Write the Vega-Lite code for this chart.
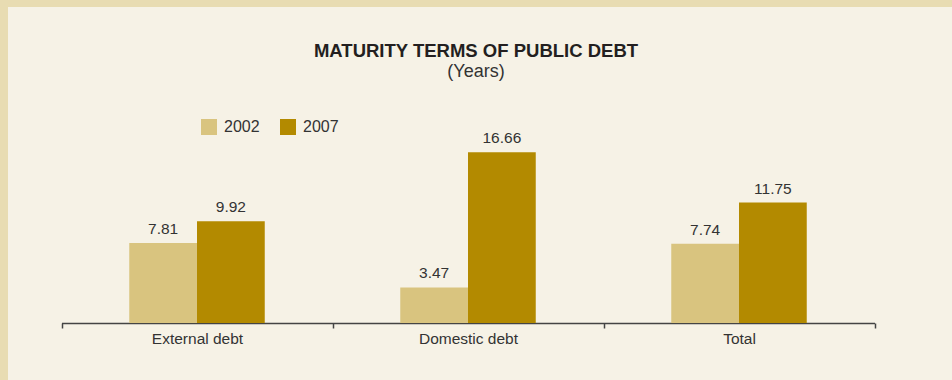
{
  "$schema": "https://vega.github.io/schema/vega-lite/v6.json",
  "autosize": {"type": "none"},
  "width": 944,
  "height": 373,
  "padding": {"left": 8, "top": 7, "right": 0, "bottom": 0},
  "background": "#e8dcb2",
  "config": {
    "view": {"fill": "#f6f2e6", "stroke": null},
    "font": "Liberation Sans"
  },
  "title": {
    "text": "MATURITY TERMS OF PUBLIC DEBT",
    "subtitle": "(Years)",
    "anchor": "middle",
    "frame": "group",
    "fontSize": 18.5,
    "fontWeight": "bold",
    "color": "#231f20",
    "subtitleFontSize": 18,
    "subtitleColor": "#333333",
    "subtitlePadding": 3,
    "dx": -4,
    "offset": -74
  },
  "data": {
    "values": [
      {"category": "External debt", "year": "2002", "value": 7.81},
      {"category": "External debt", "year": "2007", "value": 9.92},
      {"category": "Domestic debt", "year": "2002", "value": 3.47},
      {"category": "Domestic debt", "year": "2007", "value": 16.66},
      {"category": "Total", "year": "2002", "value": 7.74},
      {"category": "Total", "year": "2007", "value": 11.75}
    ]
  },
  "encoding": {
    "x": {
      "field": "category",
      "type": "nominal",
      "sort": ["External debt", "Domestic debt", "Total"],
      "scale": {"range": [53.5, 866.5], "paddingInner": 0, "paddingOuter": 0},
      "axis": {
        "title": null,
        "labelAngle": 0,
        "offset": -57,
        "tickBand": "extent",
        "tickSize": 5,
        "tickColor": "#444444",
        "tickWidth": 1.5,
        "domainColor": "#444444",
        "domainWidth": 1.5,
        "labelFontSize": 15.5,
        "labelColor": "#333333",
        "labelPadding": 3
      }
    },
    "xOffset": {
      "field": "year",
      "type": "nominal",
      "scale": {"paddingInner": 0, "paddingOuter": 1}
    },
    "y": {
      "field": "value",
      "type": "quantitative",
      "scale": {"domain": [0, 20], "range": [316, 111]},
      "axis": null
    }
  },
  "layer": [
    {
      "mark": {"type": "bar"},
      "encoding": {
        "color": {
          "field": "year",
          "type": "nominal",
          "scale": {"domain": ["2002", "2007"], "range": ["#d9c47f", "#b38a00"]},
          "legend": {
            "title": null,
            "orient": "none",
            "direction": "horizontal",
            "legendX": 193,
            "legendY": 112,
            "symbolType": "square",
            "symbolSize": 256,
            "symbolStrokeWidth": 0,
            "labelFontSize": 16,
            "labelColor": "#333333",
            "labelOffset": 7,
            "columnPadding": 20,
            "padding": 0
          }
        }
      }
    },
    {
      "mark": {"type": "text", "baseline": "alphabetic", "dy": -9, "fontSize": 15.5, "color": "#333333"},
      "encoding": {
        "text": {"field": "value", "type": "quantitative", "format": ".2f"}
      }
    }
  ]
}
